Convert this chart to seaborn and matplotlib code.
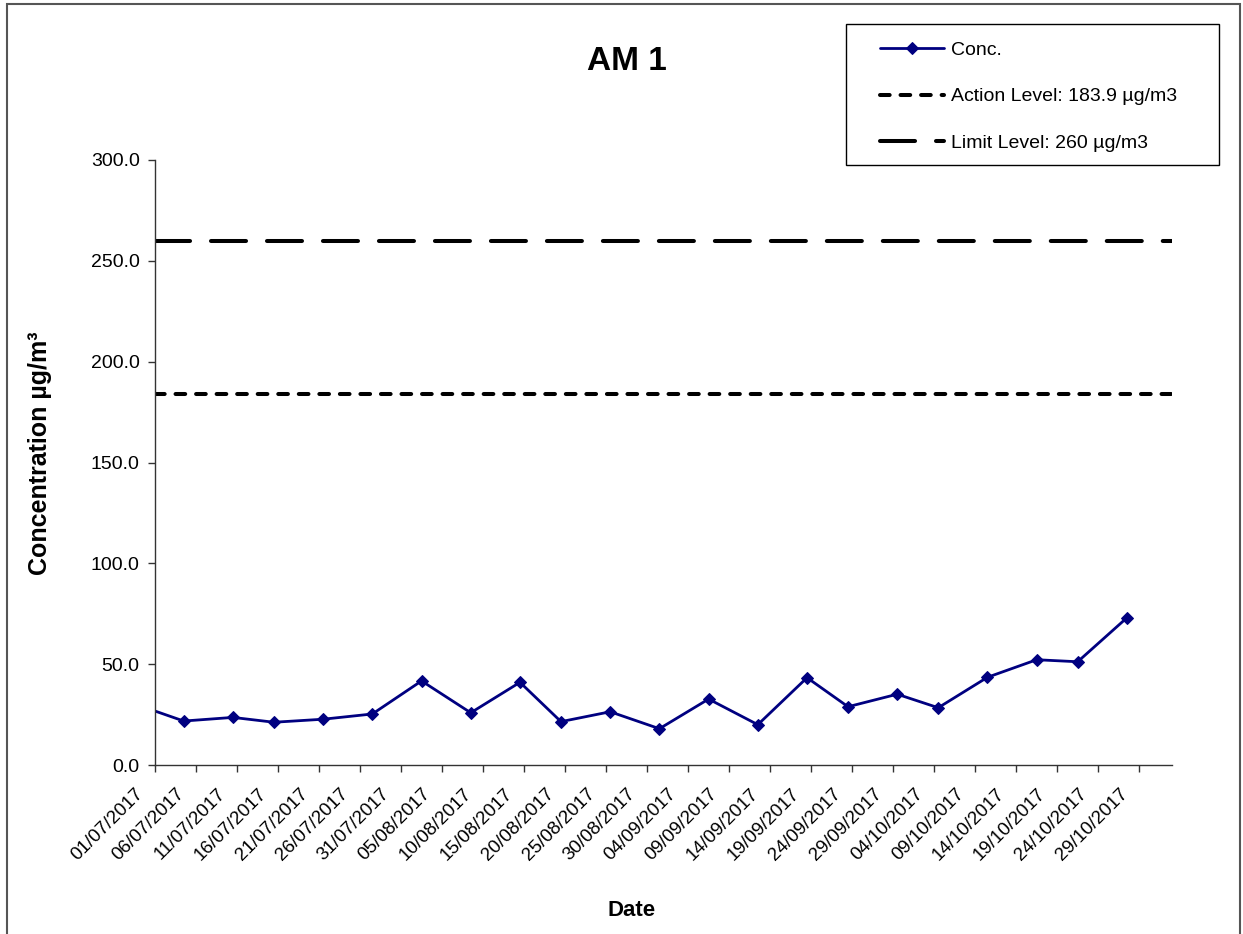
import pandas as pd
import matplotlib.pyplot as plt
import matplotlib.dates as mdates
from matplotlib.patches import Rectangle
from matplotlib.transforms import ScaledTranslation
import seaborn as sns

# Sampling dates and measured concentrations (first one falls just before the axis start)
dates = ['2017-06-28', '2017-07-04', '2017-07-10', '2017-07-15', '2017-07-21', '2017-07-27',
         '2017-08-02', '2017-08-08', '2017-08-14', '2017-08-19', '2017-08-25', '2017-08-31',
         '2017-09-06', '2017-09-12', '2017-09-18', '2017-09-23', '2017-09-29', '2017-10-04',
         '2017-10-10', '2017-10-16', '2017-10-21', '2017-10-27']
conc = [30.3, 21.8, 23.6, 21.2, 22.7, 25.3,
        41.7, 25.9, 41.0, 21.5, 26.4, 18.0,
        32.7, 20.0, 43.3, 28.9, 35.1, 28.4,
        43.5, 52.2, 51.2, 73.0]

action_level = 183.9
limit_level = 260
y_ticks = [0, 50, 100, 150, 200, 250, 300]
x_start, x_end = '2017-07-01', '2017-11-02'
tick_dates = pd.date_range('2017-07-01', '2017-10-29', freq='5D')

sns.set_theme(style='white')
plt.rcParams['font.family'] = ['Liberation Sans', 'DejaVu Sans']
plt.rcParams['text.color'] = 'black'
plt.rcParams['axes.labelcolor'] = 'black'

df = pd.DataFrame({'date': pd.to_datetime(dates) + pd.Timedelta(hours=12), 'conc': conc})

fig = plt.figure(figsize=(12.43, 9.34), dpi=100)
ax = fig.add_axes([155 / 1243, 1 - 765 / 934, (1172 - 155) / 1243, (765 - 160) / 934])

# Concentration series
sns.lineplot(data=df, x='date', y='conc', ax=ax, color='#000080', linewidth=2,
             marker='D', markersize=9, markeredgecolor='#000080', label='Conc.')

# Threshold lines
ax.axhline(action_level, color='black', linewidth=2.9, dashes=(2.4, 2.7),
           dash_capstyle='round', label='Action Level: 183.9 µg/m3')
ax.axhline(limit_level, color='black', linewidth=2.9, dashes=(8.7, 5.2),
           dash_capstyle='round', label='Limit Level: 260 µg/m3')

ax.set_xlim(pd.Timestamp(x_start), pd.Timestamp(x_end))
ax.set_ylim(0, 300)
ax.set_yticks(y_ticks)
ax.set_yticklabels([f'{v:.1f}' for v in y_ticks])
ax.set_xticks(tick_dates)
ax.xaxis.set_major_formatter(mdates.DateFormatter('%d/%m/%Y'))

ax.tick_params(axis='both', which='major', direction='out', length=5, width=1,
               color='#333333', labelcolor='black', bottom=True, left=True)
ax.tick_params(axis='y', labelsize=14, pad=6)
ax.tick_params(axis='x', labelsize=13.5, pad=14)
shift = ScaledTranslation(-14 / 100, 0, fig.dpi_scale_trans)
for lbl in ax.get_xticklabels():
    lbl.set_rotation(45)
    lbl.set_ha('right')
    lbl.set_va('center')
    lbl.set_rotation_mode('anchor')
    lbl.set_transform(lbl.get_transform() + shift)

for side in ['top', 'right']:
    ax.spines[side].set_visible(False)
for side in ['left', 'bottom']:
    ax.spines[side].set_color('#333333')
    ax.spines[side].set_linewidth(1)
ax.set_xlabel('')
ax.set_ylabel('')
ax.grid(False)

# Titles and axis labels placed in figure coordinates
fig.text(627 / 1243, 1 - 62 / 934, 'AM 1', ha='center', va='center',
         fontsize=24, fontweight='bold')
fig.text(40 / 1243, 1 - 453 / 934, 'Concentration µg/m³', rotation=90,
         ha='center', va='center', fontsize=18, fontweight='bold')
fig.text(632 / 1243, 1 - 910 / 934, 'Date', ha='center', va='center',
         fontsize=16, fontweight='bold')

# Legend (frameless, with its own box drawn behind it)
handles, labels = ax.get_legend_handles_labels()
ax.get_legend().remove()
handles[0].set_markersize(6)
fig.patches.append(Rectangle((846 / 1243, 1 - 165 / 934), (1219 - 846) / 1243, (165 - 24) / 934,
                             transform=fig.transFigure, fill=False,
                             edgecolor='black', linewidth=1))
fig.legend(handles, labels, loc='upper left',
           bbox_to_anchor=(880 / 1243, 1 - 41 / 934),
           fontsize=14, frameon=False, handlelength=3.3, handletextpad=0.35,
           labelspacing=1.5, borderpad=0, borderaxespad=0)

# Outer chart frame
fig.patches.append(Rectangle((6.5 / 1243, -0.05), (1240 - 6.5) / 1243, 1.05 - 4 / 934,
                             transform=fig.transFigure, fill=False,
                             edgecolor='#555555', linewidth=1.5))

fig.savefig('out.png', dpi=100)
